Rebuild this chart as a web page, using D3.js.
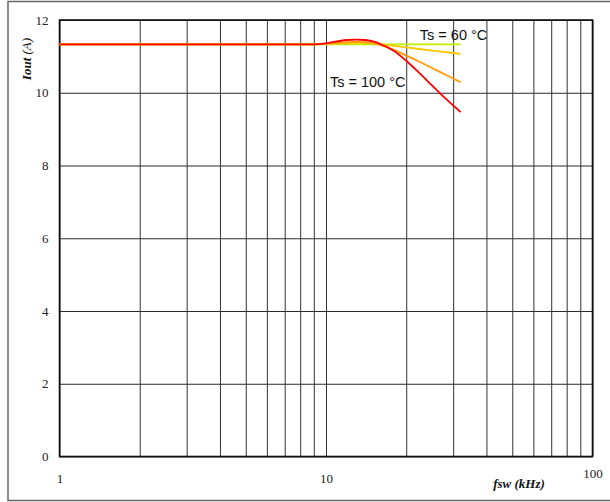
<!DOCTYPE html>
<html>
<head>
<meta charset="utf-8">
<script src="https://cdn.jsdelivr.net/npm/d3@7"></script>
<style>
  body { margin: 0; background: #fff; }
  svg { display: block; }
</style>
</head>
<body>
<div id="chart"></div>
<script>
// switching frequency (kHz) sample points for every curve
const freqs = [1, 2, 5, 8, 9, 10, 11, 12, 13, 14, 15, 16, 17, 18, 20, 22, 25, 28, 32];

// Iout (A) per heatsink temperature
const ts60  = [11.33, 11.33, 11.33, 11.33, 11.33, 11.33, 11.33, 11.33, 11.33, 11.33, 11.33, 11.33, 11.33, 11.33, 11.33, 11.33, 11.33, 11.33, 11.33];
const ts70  = [11.33, 11.33, 11.33, 11.33, 11.33, 11.34, 11.35, 11.36, 11.37, 11.37, 11.36, 11.33, 11.31, 11.29, 11.25, 11.21, 11.16, 11.12, 11.07];
const ts85  = [11.33, 11.33, 11.33, 11.33, 11.33, 11.35, 11.37, 11.39, 11.40, 11.39, 11.36, 11.31, 11.25, 11.18, 11.02, 10.88, 10.68, 10.50, 10.29];
const ts100 = [11.33, 11.33, 11.33, 11.33, 11.33, 11.36, 11.41, 11.45, 11.46, 11.45, 11.41, 11.34, 11.25, 11.15, 10.88, 10.60, 10.20, 9.85, 9.47];

const seriesNames = ["Ts60", "Ts70", "Ts85", "Ts100"];
const seriesValues = [ts60, ts70, ts85, ts100];
const seriesColors = ["#bfef00", "#ffc800", "#ff9a00", "#ff0000"];

const yTicks = [0, 2, 4, 6, 8, 10, 12];
const xGrid = [1, 2, 3, 4, 5, 6, 7, 8, 9, 10, 20, 30, 40, 50, 60, 70, 80, 90, 100];
const xLabels = [1, 10, 100];

// curve labels: [text, freq, Iout]
const notes = [["Ts = 60 °C", 22.5, 11.45], ["Ts = 100 °C", 10.35, 10.17]];

const W = 610, H = 502;
const pLeft = 59.5, pRight = 592.5, pTop = 20, pBottom = 456.5;

const svg = d3.select("#chart")
  .append("svg")
  .attr("width", W)
  .attr("height", H);

// outer frame
svg.append("rect")
  .attr("x", 8)
  .attr("y", 1.5)
  .attr("width", 620)
  .attr("height", 499)
  .style("fill", "none")
  .style("stroke", "#666")
  .style("stroke-width", 1.5);

const x = d3.scaleLog().domain([1, 100]).range([pLeft, pRight]);
const y = d3.scaleLinear().domain([0, 12]).range([pBottom, pTop]);

// horizontal grid + labels
const yAxis = svg.append("g")
  .attr("transform", `translate(${pLeft},0)`)
  .call(d3.axisLeft(y)
    .tickValues(yTicks)
    .tickSize(-(pRight - pLeft))
    .tickPadding(11)
    .tickFormat(d3.format("d")));
yAxis.select(".domain").remove();
yAxis.selectAll("line").style("stroke", "#2a2a2a").style("stroke-width", 1);
yAxis.selectAll("text")
  .style("font-family", "'Liberation Serif', 'Times New Roman', serif")
  .style("font-size", "13px")
  .style("fill", "#222");

// vertical grid + labels
const xAxis = svg.append("g")
  .attr("transform", `translate(0,${pBottom})`)
  .call(d3.axisBottom(x)
    .tickValues(xGrid)
    .tickSize(-(pBottom - pTop))
    .tickPadding(17)
    .tickFormat((d) => (xLabels.includes(d) ? String(d) : "")));
xAxis.select(".domain").remove();
xAxis.selectAll("line").style("stroke", "#333").style("stroke-width", 1);
xAxis.selectAll("text")
  .style("font-family", "'Liberation Serif', 'Times New Roman', serif")
  .style("font-size", "13px")
  .style("fill", "#222");
xAxis.selectAll(".tick")
  .filter((d) => d === 100)
  .select("text")
  .attr("y", 12);

// plot border
svg.append("rect")
  .attr("x", pLeft)
  .attr("y", pTop)
  .attr("width", pRight - pLeft)
  .attr("height", pBottom - pTop)
  .style("fill", "none")
  .style("stroke", "#111")
  .style("stroke-width", 1.6);

const line = d3.line()
  .x((d) => x(d[0]))
  .y((d) => y(d[1]))
  .curve(d3.curveMonotoneX);

seriesValues.forEach((vals, i) => {
  svg.append("path")
    .datum(freqs.map((f, j) => [f, vals[j]]))
    .attr("class", "line " + seriesNames[i])
    .attr("d", line)
    .style("fill", "none")
    .style("stroke", seriesColors[i])
    .style("stroke-width", 1.8);
});

notes.forEach((n) => {
  svg.append("text")
    .attr("x", x(n[1]))
    .attr("y", y(n[2]))
    .text(n[0])
    .style("font-family", "'Liberation Sans', Arial, sans-serif")
    .style("font-size", "14.5px")
    .style("fill", "#111");
});

// axis titles
svg.append("text")
  .attr("transform", "translate(31,59) rotate(-90)")
  .style("text-anchor", "middle")
  .style("font-family", "'Liberation Serif', 'Times New Roman', serif")
  .style("font-size", "13px")
  .style("font-style", "italic")
  .style("fill", "#111")
  .call((t) => {
    t.append("tspan").style("font-weight", "bold").text("Iout");
    t.append("tspan").text(" (A)");
  });

svg.append("text")
  .attr("x", 519)
  .attr("y", 488)
  .style("text-anchor", "middle")
  .style("font-family", "'Liberation Serif', 'Times New Roman', serif")
  .style("font-size", "13px")
  .style("font-style", "italic")
  .style("font-weight", "bold")
  .style("fill", "#111")
  .text("fsw (kHz)");
</script>
</body>
</html>
